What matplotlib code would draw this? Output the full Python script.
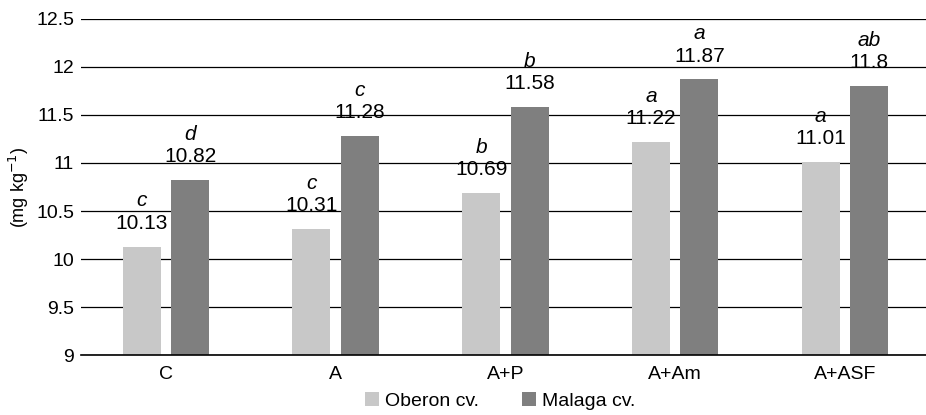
import matplotlib.pyplot as plt
import numpy as np

# Data
categories = ['C', 'A', 'A+P', 'A+Am', 'A+ASF']
oberon = [10.13, 10.31, 10.69, 11.22, 11.01]
malaga = [10.82, 11.28, 11.58, 11.87, 11.80]
oberon_letters = ['c', 'c', 'b', 'a', 'a']
malaga_letters = ['d', 'c', 'b', 'a', 'ab']
oberon_labels = ['10.13', '10.31', '10.69', '11.22', '11.01']
malaga_labels = ['10.82', '11.28', '11.58', '11.87', '11.8']

plt.rcParams['font.family'] = ['Liberation Sans', 'DejaVu Sans']

fig = plt.figure(figsize=(9.26, 4.15), dpi=100)
ax = fig.add_axes([81 / 926, 60 / 415, 845 / 926, 336 / 415])

x = np.arange(len(categories))
w = 0.224
off = 0.143
light = '#c8c8c8'
dark = '#7f7f7f'

ax.set_axisbelow(True)
ax.yaxis.grid(True, color='black', linewidth=0.9)
b1 = ax.bar(x - off, np.array(oberon) - 9, w, bottom=9, color=light, label='Oberon cv.')
b2 = ax.bar(x + off, np.array(malaga) - 9, w, bottom=9, color=dark, label='Malaga cv.')

for xs, vals, labs, lets in [(x - off, oberon, oberon_labels, oberon_letters),
                             (x + off, malaga, malaga_labels, malaga_letters)]:
    for xi, v, lab, let in zip(xs, vals, labs, lets):
        ax.annotate(lab, (xi, v), xytext=(0, 10), textcoords='offset points',
                    ha='center', va='bottom', fontsize=15)
        ax.annotate(let, (xi, v), xytext=(0, 26), textcoords='offset points',
                    ha='center', va='bottom', fontsize=15, style='italic')

ax.set_ylim(9, 12.5)
ax.set_xlim(-0.5, -0.5 + 845 / 169.75)
ax.set_yticks(np.arange(9, 12.51, 0.5))
ax.set_yticklabels(['9', '9.5', '10', '10.5', '11', '11.5', '12', '12.5'])
ax.set_xticks(x)
ax.set_xticklabels(categories)
ax.tick_params(axis='both', length=0, labelsize=14)
ax.tick_params(axis='y', pad=5)
ax.tick_params(axis='x', pad=8)
for s in ['top', 'right', 'left']:
    ax.spines[s].set_visible(False)
ax.spines['bottom'].set_linewidth(1.2)
fig.text(19 / 926, 1 - 187 / 415, '(mg kg$^{-1}$)', rotation=90, fontsize=13,
         ha='center', va='center')

fig.legend(handles=[b1, b2], loc='center', bbox_to_anchor=(500 / 926, 1 - 401 / 415),
           ncol=2, frameon=False, fontsize=14, handlelength=0.75, handleheight=0.75,
           handletextpad=0.3, columnspacing=2.2)

fig.savefig('out.png', dpi=100)
